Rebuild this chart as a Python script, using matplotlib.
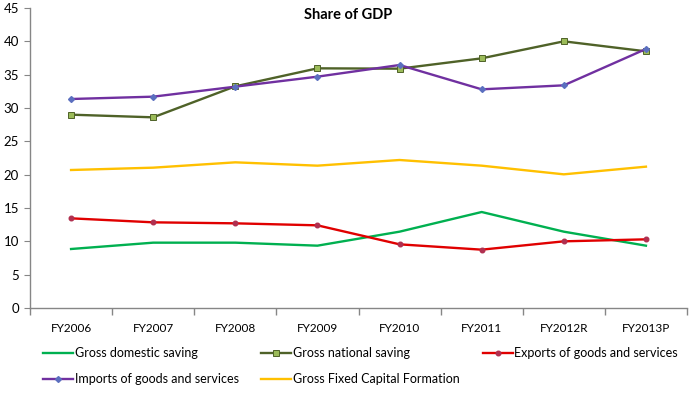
import matplotlib
matplotlib.use("Agg")
import matplotlib.pyplot as plt

categories = ["FY2006", "FY2007", "FY2008", "FY2009", "FY2010", "FY2011", "FY2012R", "FY2013P"]
gross_domestic_saving = [8.85, 9.8, 9.8, 9.35, 11.45, 14.4, 11.45, 9.35]
gross_national_saving = [29.0, 28.6, 33.25, 35.95, 35.9, 37.45, 40.0, 38.5]
exports = [13.45, 12.85, 12.7, 12.4, 9.55, 8.75, 10.0, 10.3]
imports = [31.35, 31.7, 33.2, 34.7, 36.45, 32.8, 33.4, 38.85]
gfcf = [20.7, 21.05, 21.85, 21.35, 22.2, 21.35, 20.05, 21.2]

plt.rcParams['font.family'] = ['Lato', 'DejaVu Sans']

fig = plt.figure(figsize=(6.92, 3.93), dpi=100)
ax = fig.add_axes([30/692, 1-308/393, 657/692, 300/393])

x = list(range(len(categories)))
lw = 1.7
h_gds, = ax.plot(x, gross_domestic_saving, color="#00B050", lw=lw, label="Gross domestic saving")
h_gns, = ax.plot(x, gross_national_saving, color="#4F6228", lw=lw, marker="s", ms=3.8,
                 mfc="#9BBB59", mec="#4F6228", mew=0.7, label="Gross national saving")
h_exp, = ax.plot(x, exports, color="#E00000", lw=lw, marker="o", ms=3.3,
                 mfc="#B03050", mec="#B03050", label="Exports of goods and services")
h_imp, = ax.plot(x, imports, color="#7030A0", lw=lw, marker="D", ms=3.0,
                 mfc="#5B6FBF", mec="#5B6FBF", label="Imports of goods and services")
h_gf, = ax.plot(x, gfcf, color="#FFC000", lw=lw, label="Gross Fixed Capital Formation")

ax.set_xlim(-0.5, len(categories) - 0.5)
ax.set_ylim(0, 45)
ax.set_yticks(range(0, 46, 5))
ax.set_xticks(x)
ax.set_xticklabels(categories, fontsize=8.5)
ax.set_xticks([i - 0.5 for i in range(len(categories) + 1)], minor=True)
ax.tick_params(axis='x', which='major', length=0, pad=11)
ax.tick_params(axis='x', which='minor', length=5, color="#868686", width=1)
ax.tick_params(axis='y', length=4, color="#868686", labelsize=9.5, pad=4)

for s in ["top", "right"]:
    ax.spines[s].set_visible(False)
for s in ["left", "bottom"]:
    ax.spines[s].set_color("#868686")
    ax.spines[s].set_linewidth(1)

fig.text(348/692, 1-15/393, "Share of GDP", ha="center", va="center",
         fontsize=10.5, fontweight="bold")

handles = [h_gds, h_imp, h_gns, h_gf, h_exp]
labels = [h.get_label() for h in handles]
leg = fig.legend(handles, labels, loc="upper left", bbox_to_anchor=(43/692, 1-347/393), ncol=3,
                 frameon=False, fontsize=9, handlelength=2.4, handletextpad=0.15,
                 columnspacing=1.8, labelspacing=1.15, borderaxespad=0, borderpad=0)

fig.savefig("out.png", dpi=100)
